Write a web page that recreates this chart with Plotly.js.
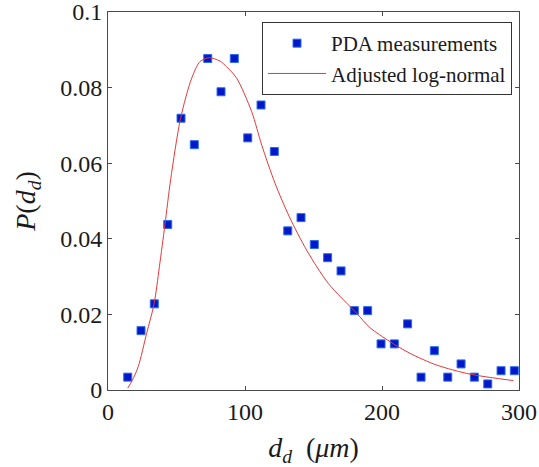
<!DOCTYPE html>
<html>
<head>
<meta charset="utf-8">
<script src="https://cdn.plot.ly/plotly-3.0.1.min.js"></script>
<style>html,body{margin:0;padding:0;background:#fff;}#chart{width:539px;height:467px;}</style>
</head>
<body>
<div id="chart"></div>
<script>
// Measured droplet diameter bins (um) and PDA probability
var diameters = [14.4, 24.1, 33.8, 43.6, 53.3, 63.0, 72.8, 82.5, 92.2, 102.0, 111.7, 121.4, 131.2, 140.9, 150.6, 160.3, 170.1, 179.8, 189.5, 199.3, 209.0, 218.7, 228.5, 238.2, 248.0, 257.7, 267.4, 277.2, 286.9, 296.6];
var pdaValues = [0.0034, 0.0157, 0.0228, 0.0438, 0.0719, 0.0649, 0.0877, 0.0789, 0.0877, 0.0667, 0.0754, 0.0631, 0.0421, 0.0456, 0.0385, 0.0350, 0.0315, 0.0210, 0.0210, 0.0122, 0.0122, 0.0175, 0.0034, 0.0104, 0.0034, 0.0069, 0.0034, 0.0016, 0.0051, 0.0051];

// Adjusted log-normal curve
var fitX = [14.4, 17.8, 22.1, 28.2, 33.6, 37.5, 41.6, 45.7, 53.0, 61.1, 67.2, 74.0, 81.8, 86.6, 93.9, 104.9, 112.2, 121.9, 132.4, 145.0, 160.8, 181.5, 191.2, 205.8, 220.4, 239.9, 264.2, 295.8];
var fitY = [0.0005, 0.0026, 0.0062, 0.0150, 0.0227, 0.0326, 0.0438, 0.0556, 0.0719, 0.0825, 0.0869, 0.0879, 0.0870, 0.0855, 0.0825, 0.0736, 0.0648, 0.0547, 0.0458, 0.0370, 0.0282, 0.0203, 0.0165, 0.0128, 0.0097, 0.0066, 0.0042, 0.0025];

var xTicks = [0, 100, 200, 300];
var yTicks = [0, 0.02, 0.04, 0.06, 0.08, 0.1];
var yTickText = ['0', '0.02', '0.04', '0.06', '0.08', '0.1'];

var serif = '"Liberation Serif", "Times New Roman", Times, serif';

var traces = [
  {
    x: diameters, y: pdaValues, type: 'scatter', mode: 'markers',
    name: 'PDA measurements',
    marker: {symbol: 'square', size: 8, color: '#0018c8', line: {color: '#2a6cf0', width: 1}}
  },
  {
    x: fitX, y: fitY, type: 'scatter', mode: 'lines',
    name: 'Adjusted log-normal',
    line: {color: '#e5383b', width: 1, shape: 'spline', smoothing: 0.8}
  }
];

var axisCommon = {
  showgrid: false, zeroline: false, showline: true, mirror: 'ticks',
  linecolor: '#4a4a4a', linewidth: 1, ticks: 'inside', ticklen: 4,
  tickcolor: '#4a4a4a', tickfont: {family: serif, size: 24, color: '#1a1a1a'},
  ticklabeloverflow: 'allow'
};

var layout = {
  width: 539, height: 467,
  margin: {l: 108, r: 20, t: 12, b: 77},
  paper_bgcolor: '#fff', plot_bgcolor: '#fff',
  font: {family: serif},
  showlegend: true,
  legend: {
    x: 0.983, y: 0.9735, xanchor: 'right', yanchor: 'top',
    bordercolor: '#333', borderwidth: 1, bgcolor: '#fff',
    font: {family: serif, size: 21, color: '#1a1a1a'},
    itemwidth: 58, tracegroupgap: 0
  },
  xaxis: Object.assign({}, axisCommon, {
    range: [0, 300], tickvals: xTicks, ticktext: xTicks.map(String),
    title: {text: '<i>d<sub>d</sub></i>\u00a0\u00a0(<i>μm</i>)', font: {family: serif, size: 28, color: '#1a1a1a'}, standoff: 17}
  }),
  yaxis: Object.assign({}, axisCommon, {
    range: [0, 0.1], tickvals: yTicks, ticktext: yTickText,
    title: {text: '<i>P</i>(<i>d<sub>d</sub></i>)', font: {family: serif, size: 28, color: '#1a1a1a'}, standoff: 16}
  })
};

Plotly.newPlot('chart', traces, layout, {displayModeBar: false, staticPlot: true});
</script>
</body>
</html>
